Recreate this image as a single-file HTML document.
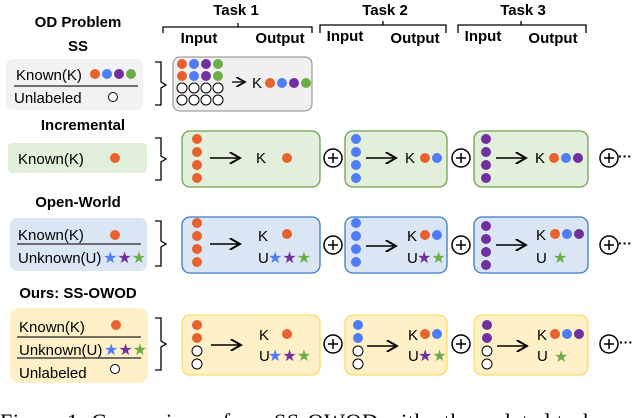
<!DOCTYPE html>
<html><head><style>body{margin:0;background:#fff}svg{display:block}</style></head><body>
<svg width="640" height="418" viewBox="0 0 640 418" xmlns="http://www.w3.org/2000/svg" font-family="Liberation Sans, sans-serif">
<defs>
<marker id="ah" markerWidth="8" markerHeight="8" refX="7" refY="4" orient="auto"><path d="M0,0 L7,4 L0,8" fill="none" stroke="#000" stroke-width="1.3"/></marker>
</defs>
<g font-weight="bold" font-size="15" text-anchor="middle">
<text x="236" y="15">Task 1</text><text x="385" y="15">Task 2</text><text x="523" y="15">Task 3</text>
<text x="78" y="27">OD Problem</text><text x="78" y="51">SS</text>
<text x="83" y="130">Incremental</text><text x="78" y="207">Open-World</text><text x="78" y="298">Ours: SS-OWOD</text>
<text x="199" y="43">Input</text><text x="280" y="43">Output</text>
<text x="345" y="41">Input</text><text x="415" y="43">Output</text>
<text x="483" y="41">Input</text><text x="553" y="43">Output</text>
</g>
<g fill="none" stroke="#000" stroke-width="1.3">
<path d="M163 33 v-6 h75 v-4 v4 h74 v6"/>
<path d="M320 33 v-8 h63 v-4 v4 h63 v8"/>
<path d="M458 33 v-8 h63 v-4 v4 h65 v8"/>
<path d="M155 62 h6 v20 l5 3 l-5 3 v17 h-6"/>
<path d="M155 138 h6 v18 l5 3 l-5 3 v18 h-6"/>
<path d="M155 221 h6 v20 l5 3 l-5 3 v19 h-6"/>
<path d="M155 318 h6 v23 l5 3 l-5 3 v23 h-6"/>
</g>
<rect x="6" y="59" width="137" height="51" rx="7" fill="#f2f2f2"/>
<rect x="8" y="143" width="139" height="30" rx="4" fill="#e2efda"/>
<rect x="10" y="218" width="137" height="53" rx="7" fill="#dae6f4"/>
<rect x="10" y="308" width="138" height="75" rx="9" fill="#fff0c8"/>
<g font-size="15" fill="#000">
<text x="16" y="80">Known(K)</text><text x="14" y="103">Unlabeled</text>
<text x="18" y="164">Known(K)</text>
<text x="18" y="240">Known(K)</text><text x="18" y="263">Unknown(U)</text>
<text x="19" y="132" dy="200">Known(K)</text><text x="19" y="355">Unknown(U)</text><text x="19" y="378">Unlabeled</text>
</g>
<g stroke="#444" stroke-width="1.5">
<line x1="14" y1="86" x2="138" y2="86"/><line x1="17" y1="244" x2="141" y2="244"/>
<line x1="17" y1="337" x2="141" y2="337"/><line x1="17" y1="358" x2="141" y2="358"/>
</g>
<g>
<circle cx="95" cy="74" r="5" fill="#e8622f"/><circle cx="107" cy="74" r="5" fill="#4f7cf7"/><circle cx="119" cy="74" r="5" fill="#7030a0"/><circle cx="131" cy="74" r="5" fill="#6aaf45"/>
<circle cx="113" cy="97" r="4.5" fill="#fff" stroke="#000"/>
<circle cx="115" cy="158" r="5" fill="#e8622f"/>
<circle cx="115" cy="235" r="5" fill="#e8622f"/>
<circle cx="116" cy="325" r="5" fill="#e8622f"/>
<circle cx="115" cy="369" r="4.5" fill="#fff" stroke="#000"/>
</g>
<g font-size="16"><text x="103" y="263"><tspan fill="#4f7cf7">★</tspan><tspan fill="#7030a0">★</tspan><tspan fill="#6aaf45">★</tspan></text>
<text x="104" y="355"><tspan fill="#4f7cf7">★</tspan><tspan fill="#7030a0">★</tspan><tspan fill="#6aaf45">★</tspan></text></g>
<rect x="173" y="57" width="139" height="54" rx="7" fill="#f0f0f0" stroke="#888"/>
<g stroke="#000">
<circle cx="182" cy="64" r="5" fill="#e8622f" stroke="none"/><circle cx="194" cy="64" r="5" fill="#4f7cf7" stroke="none"/><circle cx="206" cy="64" r="5" fill="#7030a0" stroke="none"/><circle cx="218" cy="64" r="5" fill="#6aaf45" stroke="none"/>
<circle cx="182" cy="76" r="5" fill="#e8622f" stroke="none"/><circle cx="194" cy="76" r="5" fill="#4f7cf7" stroke="none"/><circle cx="206" cy="76" r="5" fill="#7030a0" stroke="none"/><circle cx="218" cy="76" r="5" fill="#6aaf45" stroke="none"/>
<g fill="#fff"><circle cx="182" cy="88" r="5"/><circle cx="194" cy="88" r="5"/><circle cx="206" cy="88" r="5"/><circle cx="218" cy="88" r="5"/>
<circle cx="182" cy="100" r="5"/><circle cx="194" cy="100" r="5"/><circle cx="206" cy="100" r="5"/><circle cx="218" cy="100" r="5"/></g>
<line x1="232" y1="82" x2="245" y2="82" stroke-width="1.3" marker-end="url(#ah)"/>
</g>
<text x="252" y="88" font-size="15">K</text>
<circle cx="270" cy="83" r="5" fill="#e8622f"/><circle cx="282" cy="83" r="5" fill="#4f7cf7"/><circle cx="294" cy="83" r="5" fill="#7030a0"/><circle cx="306" cy="83" r="5" fill="#6aaf45"/>
<g stroke-width="1.3">
<rect x="182" y="131" width="138" height="56" rx="8" fill="#e2efda" stroke="#70a050"/>
<rect x="345" y="131" width="102" height="56" rx="8" fill="#e2efda" stroke="#70a050"/>
<rect x="474" y="131" width="114" height="56" rx="8" fill="#e2efda" stroke="#70a050"/>
<rect x="182" y="217" width="138" height="56" rx="8" fill="#dae6f4" stroke="#3a7cc0"/>
<rect x="345" y="217" width="102" height="56" rx="8" fill="#dae6f4" stroke="#3a7cc0"/>
<rect x="474" y="217" width="114" height="56" rx="8" fill="#dae6f4" stroke="#3a7cc0"/>
<rect x="182" y="315" width="138" height="60" rx="8" fill="#fff0c8" stroke="#ffd966"/>
<rect x="345" y="315" width="102" height="60" rx="8" fill="#fff0c8" stroke="#ffd966"/>
<rect x="474" y="315" width="114" height="60" rx="8" fill="#fff0c8" stroke="#ffd966"/>
</g>
<g>
<g fill="#e8622f"><circle cx="197" cy="139" r="5"/><circle cx="197" cy="152" r="5"/><circle cx="197" cy="165" r="5"/><circle cx="197" cy="178" r="5"/>
<circle cx="197" cy="223" r="5"/><circle cx="197" cy="236" r="5"/><circle cx="197" cy="249" r="5"/><circle cx="197" cy="262" r="5"/>
<circle cx="197" cy="325" r="5"/><circle cx="197" cy="338" r="5"/></g>
<g fill="#4f7cf7"><circle cx="356" cy="139" r="5"/><circle cx="356" cy="152" r="5"/><circle cx="356" cy="165" r="5"/><circle cx="356" cy="178" r="5"/>
<circle cx="356" cy="223" r="5"/><circle cx="356" cy="236" r="5"/><circle cx="356" cy="249" r="5"/><circle cx="356" cy="262" r="5"/>
<circle cx="358" cy="325" r="5"/><circle cx="358" cy="338" r="5"/></g>
<g fill="#7030a0"><circle cx="486" cy="139" r="5"/><circle cx="486" cy="152" r="5"/><circle cx="486" cy="165" r="5"/><circle cx="486" cy="178" r="5"/>
<circle cx="486" cy="226" r="5"/><circle cx="486" cy="239" r="5"/><circle cx="486" cy="252" r="5"/><circle cx="486" cy="265" r="5"/>
<circle cx="487" cy="325" r="5"/><circle cx="487" cy="338" r="5"/></g>
<g fill="#fff" stroke="#000"><circle cx="197" cy="351" r="5"/><circle cx="197" cy="364" r="5"/><circle cx="358" cy="351" r="5"/><circle cx="358" cy="364" r="5"/><circle cx="487" cy="351" r="5"/><circle cx="487" cy="364" r="5"/></g>
</g>
<g stroke="#000" stroke-width="1.5" marker-end="url(#ah)">
<line x1="210" y1="158" x2="240" y2="158"/><line x1="366" y1="158" x2="396" y2="158"/><line x1="496" y1="158" x2="526" y2="158"/>
<line x1="210" y1="244" x2="240" y2="244"/><line x1="366" y1="246" x2="396" y2="246"/><line x1="496" y1="245" x2="526" y2="245"/>
<line x1="211" y1="345" x2="241" y2="345"/><line x1="367" y1="346" x2="397" y2="346"/><line x1="497" y1="346" x2="527" y2="346"/>
</g>
<g font-size="15">
<text x="256" y="163">K</text><text x="405" y="163">K</text><text x="535" y="163">K</text>
<text x="258" y="241">K</text><text x="407" y="241">K</text><text x="536" y="240">K</text>
<text x="258" y="263">U</text><text x="407" y="263">U</text><text x="536" y="263">U</text>
<text x="259" y="340">K</text><text x="408" y="340">K</text><text x="537" y="340">K</text>
<text x="259" y="361">U</text><text x="408" y="361">U</text><text x="537" y="361">U</text>
</g>
<g>
<circle cx="287" cy="158" r="5" fill="#e8622f"/>
<circle cx="425" cy="158" r="5" fill="#e8622f"/><circle cx="437" cy="158" r="5" fill="#4f7cf7"/>
<circle cx="554" cy="158" r="5" fill="#e8622f"/><circle cx="566" cy="158" r="5" fill="#4f7cf7"/><circle cx="578" cy="158" r="5" fill="#7030a0"/>
<circle cx="287" cy="234" r="5" fill="#e8622f"/>
<circle cx="425" cy="235" r="5" fill="#e8622f"/><circle cx="437" cy="235" r="5" fill="#4f7cf7"/>
<circle cx="555" cy="234" r="5" fill="#e8622f"/><circle cx="567" cy="234" r="5" fill="#4f7cf7"/><circle cx="579" cy="234" r="5" fill="#7030a0"/>
<circle cx="287" cy="334" r="5" fill="#e8622f"/>
<circle cx="425" cy="334" r="5" fill="#e8622f"/><circle cx="437" cy="334" r="5" fill="#4f7cf7"/>
<circle cx="555" cy="334" r="5" fill="#e8622f"/><circle cx="567" cy="334" r="5" fill="#4f7cf7"/><circle cx="579" cy="334" r="5" fill="#7030a0"/>
</g>
<g font-size="16">
<text x="268" y="263"><tspan fill="#4f7cf7">★</tspan><tspan fill="#7030a0">★</tspan><tspan fill="#6aaf45">★</tspan></text>
<text x="417" y="263"><tspan fill="#7030a0">★</tspan><tspan fill="#6aaf45">★</tspan></text>
<text x="553" y="263" fill="#6aaf45">★</text>
<text x="268" y="361"><tspan fill="#4f7cf7">★</tspan><tspan fill="#7030a0">★</tspan><tspan fill="#6aaf45">★</tspan></text>
<text x="418" y="361"><tspan fill="#7030a0">★</tspan><tspan fill="#6aaf45">★</tspan></text>
<text x="554" y="362" fill="#6aaf45">★</text>
</g>
<g fill="#fff" stroke="#000" stroke-width="1.5">
<g id="p"><circle cx="333" cy="158" r="9"/><path d="M328 158 h10 M333 153 v10"/></g>
<use href="#p" x="128"/><use href="#p" x="276"/>
<use href="#p" y="87"/><use href="#p" x="128" y="87"/><use href="#p" x="276" y="87"/>
<use href="#p" y="186"/><use href="#p" x="128" y="186"/><use href="#p" x="276" y="186"/>
</g>
<g font-size="14" font-weight="bold"><text x="618" y="161">···</text><text x="618" y="248">···</text><text x="619" y="347">···</text></g>
<text x="0" y="429" font-family="Liberation Serif, serif" font-size="22" letter-spacing="0.6">Figure 1: Comparison of our SS-OWOD with other related tasks</text>
</svg>
</body></html>
